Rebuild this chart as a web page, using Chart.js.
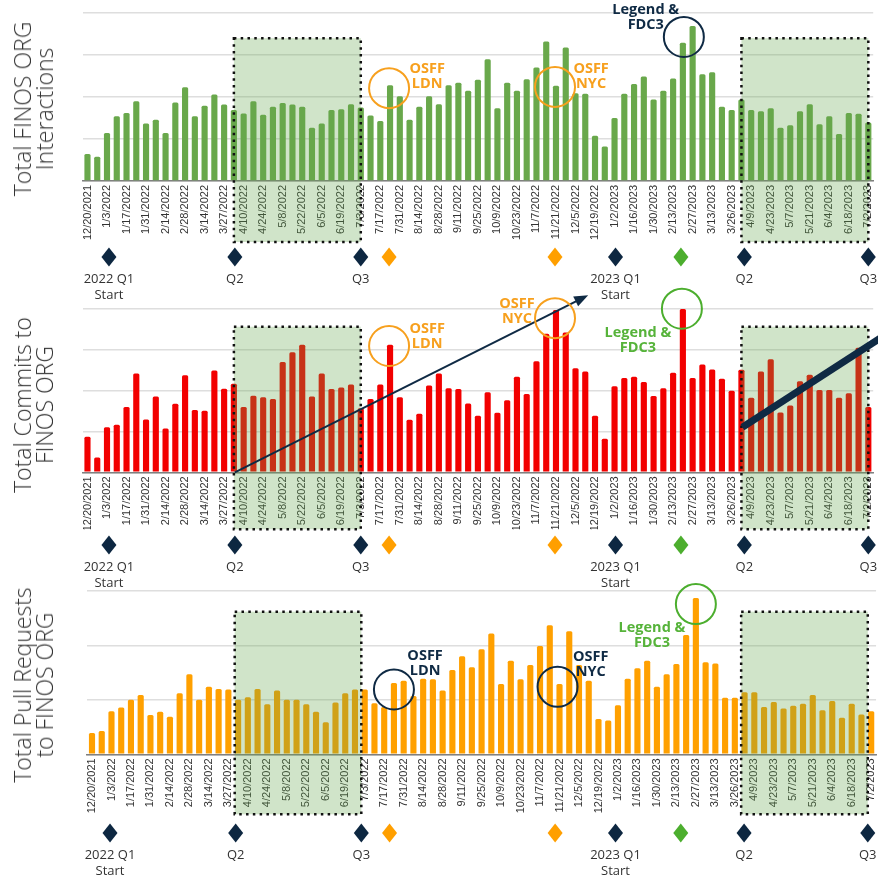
<!DOCTYPE html>
<html><head><meta charset="utf-8">
<script src="https://cdn.jsdelivr.net/npm/chart.js@4.4.1/dist/chart.umd.min.js"></script>
<style>
html,body{margin:0;padding:0;background:#fff;width:878px;height:879px;overflow:hidden;}
#wrap{position:relative;width:878px;height:879px;overflow:hidden;}
canvas{position:absolute;left:0;}
.ytitle{position:absolute;left:33px;transform:translate(-50%,-50%) rotate(-90deg);font-family:"Open Sans",sans-serif;font-weight:300;font-size:23px;line-height:22px;color:#333;white-space:nowrap;text-align:center;}
.ann{position:absolute;transform:translate(-50%,-50%);font-family:"Open Sans",sans-serif;font-weight:700;font-size:14.5px;line-height:15px;text-align:center;white-space:nowrap;}
.qlab{position:absolute;transform:translateX(-50%);font-family:"Open Sans",sans-serif;font-size:13px;line-height:16px;text-align:center;color:#333;white-space:nowrap;}
</style></head>
<body><div id="wrap"></div>
<script>
// ---------------- DATA ----------------
const tickLabels = ['12/20/2021','1/3/2022','1/17/2022','1/31/2022','2/14/2022','2/28/2022','3/14/2022','3/27/2022',
  '4/10/2022','4/24/2022','5/8/2022','5/22/2022','6/5/2022','6/19/2022','7/3/2022','7/17/2022','7/31/2022',
  '8/14/2022','8/28/2022','9/11/2022','9/25/2022','10/9/2022','10/23/2022','11/7/2022','11/21/2022','12/5/2022',
  '12/19/2022','1/2/2023','1/16/2023','1/30/2023','2/13/2023','2/27/2023','3/13/2023','3/26/2023','4/9/2023',
  '4/23/2023','5/7/2023','5/21/2023','6/4/2023','6/18/2023','7/2/2023'];

const interactions = [6.4,5.8,11.4,15.4,16.2,19.0,13.7,14.6,11.4,18.7,
  22.3,15.4,17.9,20.6,18.2,16.9,16.1,19.0,15.8,17.7,
  18.6,18.2,17.7,12.7,13.7,16.9,17.1,18.3,17.5,15.6,
  14.3,22.8,20.2,14.6,17.7,20.2,18.3,22.8,23.4,21.5,
  24.1,29.0,17.3,23.4,21.5,24.2,27.0,33.2,22.7,31.8,
  20.9,20.8,10.8,8.2,15.0,20.8,23.1,24.9,19.4,21.5,
  24.4,32.9,36.9,25.4,25.9,17.7,16.9,19.4,16.9,16.6,
  17.3,12.7,13.3,16.6,18.3,13.5,15.4,11.2,16.2,16.0,13.9];

const commits = [8.7,3.6,11.0,11.6,15.9,24.1,12.9,18.5,10.7,16.7,
  23.7,15.2,15.0,24.8,20.4,21.6,15.9,18.7,18.3,17.9,
  26.9,29.3,31.1,18.5,24.1,20.3,20.7,21.4,15.6,17.9,
  21.4,31.1,18.3,12.8,14.3,21.2,24.1,20.5,20.3,16.8,
  13.8,19.5,14.5,17.6,23.3,19.1,27.1,33.8,39.6,34.1,
  25.4,24.6,13.8,8.2,21.0,23.0,23.3,22.0,18.6,20.5,
  24.3,39.8,23.0,26.3,25.1,22.8,19.9,25.0,18.2,24.6,
  27.6,14.6,16.3,22.2,23.8,20.1,20.1,18.2,19.3,30.4,15.9];

const pullRequests = [3.9,4.3,7.9,8.6,10.0,10.9,7.2,7.8,6.9,11.2,
  14.7,10.0,12.4,12.0,11.9,10.0,10.5,12.0,9.2,11.7,
  10.0,10.0,9.2,7.8,5.9,9.5,11.2,11.9,11.9,9.4,
  8.7,13.1,13.5,10.7,13.9,13.8,11.7,15.5,18.0,16.0,
  19.3,22.2,12.9,17.2,13.8,16.4,19.9,23.7,12.9,22.6,
  16.4,13.5,6.5,6.2,9.0,13.9,15.8,17.2,12.4,14.7,
  16.6,21.9,28.7,16.9,16.7,10.4,10.4,11.4,11.4,8.7,
  9.6,8.4,8.9,9.3,10.9,8.1,9.8,6.7,9.3,7.3,7.9];

const highlightRanges = [[15, 28], [67, 80]];
const quarterMarks = [
  {i:2.2, lines:['2022 Q1','Start']}, {i:15.1, lines:['Q2']}, {i:28, lines:['Q3']},
  {i:54.1, lines:['2023 Q1','Start']}, {i:67.3, lines:['Q2']}, {i:80, lines:['Q3']}];
const eventMarks = [{i:30.9, kind:'osff'}, {i:47.9, kind:'osff'}, {i:60.8, kind:'legend'}];

const categories = [];
for (let i = 0; i < interactions.length; i++) categories.push(i % 2 === 0 ? tickLabels[i / 2] : '');

// ---------------- STYLE / LAYOUT ----------------
const ORANGE = '#f7a01e', NAVY = '#0f2a44', GREEN = '#4cae2e', GREEN_T = '#56b33a';
const DIA = {navy:'#0d2741', osff:'#ff9f00', legend:'#4cae2e'};

const panels = [
  { top:0, height:272, data:interactions, color:'#69a84b', yMax:40,
    padTop:13, padBottom:30, axisH:61, padLeft:82.6, padRight:16.8, boxTop:34, markY:76, xShift:0,
    title:['Total FINOS ORG','Interactions'], titleY:109,
    rings:[{i:30.9,v:22.1,c:ORANGE},{i:47.9,v:22.4,c:ORANGE},{i:61.1,v:34.3,c:NAVY}],
    notes:[{i:34.8,v:25.2,t:['OSFF','LDN'],c:ORANGE},{i:51.6,v:25.2,t:['OSFF','NYC'],c:ORANGE},{i:57.2,v:39.2,t:['Legend &','FDC3'],c:NAVY}],
    lines:[] },
  { top:285, height:275, data:commits, color:'#f20000', yMax:40,
    padTop:23.3, padBottom:30.7, axisH:57, padLeft:82.6, padRight:16.8, boxTop:35.5, markY:72.7, xShift:0,
    title:['Total Commits to','FINOS ORG'], titleY:120,
    rings:[{i:30.9,v:30.8,c:ORANGE},{i:47.9,v:37.6,c:ORANGE},{i:60.9,v:39.9,c:GREEN}],
    notes:[{i:34.8,v:33.6,t:['OSFF','LDN'],c:ORANGE},{i:44.0,v:39.5,t:['OSFF','NYC'],c:ORANGE},{i:56.4,v:32.4,t:['Legend &','FDC3'],c:GREEN_T}],
    lines:[{from:[15.1,0],to:[51.3,43.2],w:2,arrow:true},{from:[67.1,11.0],to:[81.8,33.6],w:7,arrow:false}] },
  { top:575, height:304, data:pullRequests, color:'#ffa000', yMax:30,
    padTop:16, padBottom:64.7, axisH:60, padLeft:87.13, padRight:13.94, boxTop:26.2, markY:78.7, xShift:-0.35,
    title:['Total Pull Requests','to FINOS ORG'], titleY:110,
    rings:[{i:31.0,v:11.9,c:NAVY},{i:47.8,v:12.4,c:NAVY},{i:62.0,v:27.6,c:GREEN}],
    notes:[{i:34.2,v:16.9,t:['OSFF','LDN'],c:NAVY},{i:51.2,v:16.8,t:['OSFF','NYC'],c:NAVY},{i:57.5,v:22.1,t:['Legend &','FDC3'],c:GREEN_T}],
    lines:[] }
];

const N = categories.length;
function xAt(chart, f) {
  const xs = chart.scales.x;
  return xs.left + (f + 0.5) * xs.width / N;
}

function makePlugin(p) {
  return {
    id: 'finosAnn',
    afterDraw(chart) {
      const ctx = chart.ctx, ys = chart.scales.y, xs = chart.scales.x;
      const XS = f => xAt(chart, f + p.xShift);
      const X = f => xAt(chart, f);
      ctx.save();
      // highlighted quarters
      highlightRanges.forEach(([a, b]) => {
        const x1 = XS(a), x2 = XS(b), y1 = ys.getPixelForValue(p.boxTop), y2 = xs.bottom;
        ctx.fillStyle = 'rgba(100,165,75,0.3)';
        ctx.fillRect(x1, y1, x2 - x1, y2 - y1);
        ctx.setLineDash([2.5, 4.3]);
        ctx.lineWidth = 2.5;
        ctx.strokeStyle = '#111';
        ctx.strokeRect(x1, y1, x2 - x1, y2 - y1);
      });
      ctx.setLineDash([]);
      // trend lines / arrows
      p.lines.forEach(l => {
        const x1 = X(l.from[0]), y1 = ys.getPixelForValue(l.from[1]);
        const x2 = X(l.to[0]), y2 = ys.getPixelForValue(l.to[1]);
        ctx.strokeStyle = NAVY; ctx.fillStyle = NAVY; ctx.lineWidth = l.w; ctx.lineCap = 'butt';
        const ang = Math.atan2(y2 - y1, x2 - x1);
        const hl = l.arrow ? 12 : 0;
        ctx.beginPath();
        ctx.moveTo(x1, y1);
        ctx.lineTo(x2 - hl * Math.cos(ang), y2 - hl * Math.sin(ang));
        ctx.stroke();
        if (l.arrow) {
          ctx.beginPath();
          ctx.moveTo(x2, y2);
          ctx.lineTo(x2 - 14 * Math.cos(ang) + 5.5 * Math.sin(ang), y2 - 14 * Math.sin(ang) - 5.5 * Math.cos(ang));
          ctx.lineTo(x2 - 14 * Math.cos(ang) - 5.5 * Math.sin(ang), y2 - 14 * Math.sin(ang) + 5.5 * Math.cos(ang));
          ctx.closePath();
          ctx.fill();
        }
      });
      // rings
      p.rings.forEach(r => {
        ctx.beginPath();
        ctx.arc(X(r.i), ys.getPixelForValue(r.v), 20, 0, Math.PI * 2);
        ctx.lineWidth = 2; ctx.strokeStyle = r.c; ctx.stroke();
      });
      // diamonds
      const my = ys.getPixelForValue(0) + p.markY;
      const dia = (cx, col) => {
        ctx.beginPath();
        ctx.moveTo(cx, my - 9.5); ctx.lineTo(cx + 7.5, my); ctx.lineTo(cx, my + 9.5); ctx.lineTo(cx - 7.5, my);
        ctx.closePath(); ctx.fillStyle = col; ctx.fill();
      };
      quarterMarks.forEach(m => dia(XS(m.i), DIA.navy));
      eventMarks.forEach(m => dia(XS(m.i), DIA[m.kind]));
      ctx.restore();
    }
  };
}

const wrap = document.getElementById('wrap');
function addDiv(cls, x, y, lines, color) {
  const d = document.createElement('div');
  d.className = cls;
  d.style.left = x + 'px'; d.style.top = y + 'px';
  if (color) d.style.color = color;
  d.innerHTML = lines.map(s => s.replace('&', '&amp;')).join('<br>');
  wrap.appendChild(d);
  return d;
}

panels.forEach(p => {
  const cv = document.createElement('canvas');
  cv.width = 890; cv.height = p.height;
  cv.style.top = p.top + 'px';
  wrap.appendChild(cv);
  const chart = new Chart(cv, {
    type: 'bar',
    data: { labels: categories, datasets: [{ data: p.data, backgroundColor: p.color,
      barPercentage: 0.63, categoryPercentage: 1, borderRadius: 1.5 }] },
    options: {
      responsive: false, animation: false,
      layout: { padding: { top: p.padTop, bottom: p.padBottom, left: p.padLeft, right: p.padRight } },
      plugins: { legend: { display: false }, tooltip: { enabled: false } },
      scales: {
        x: { grid: { display: false, drawTicks: false },
             border: { display: true, color: '#808080', width: 1.5 },
             ticks: { autoSkip: false, maxRotation: 90, minRotation: 90, padding: 4, color: '#333',
                      font: { family: 'Liberation Sans', size: 11 } },
             afterFit: s => { s.height = p.axisH; } },
        y: { min: 0, max: p.yMax, ticks: { display: false, stepSize: 10 },
             grid: { color: '#dedede', lineWidth: 1.5, drawTicks: false },
             border: { display: false },
             afterFit: s => { s.width = 0; } }
      }
    },
    plugins: [makePlugin(p)]
  });
  const ys = chart.scales.y;
  // axis title
  addDiv('ytitle', 33, p.top + p.titleY, p.title);
  // notes
  p.notes.forEach(n => addDiv('ann', xAt(chart, n.i), p.top + ys.getPixelForValue(n.v), n.t, n.c));
  // quarter labels
  const my = ys.getPixelForValue(0) + p.markY;
  quarterMarks.forEach(m => addDiv('qlab', xAt(chart, m.i + p.xShift), p.top + my + 13, m.lines));
});
</script>
</body></html>
